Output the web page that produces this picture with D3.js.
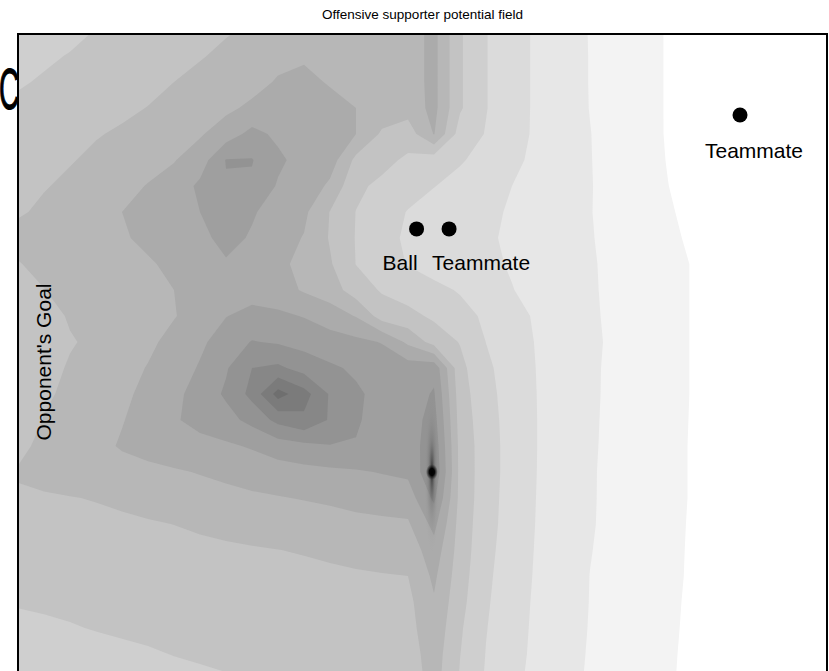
<!DOCTYPE html>
<html>
<head>
<meta charset="utf-8">
<script src="https://cdn.jsdelivr.net/npm/d3@7"></script>
<style>
  html, body { margin: 0; padding: 0; background: #fff; }
  svg { display: block; }
  text { font-family: "Liberation Sans", Arial, Helvetica, sans-serif; fill: #000; }
</style>
</head>
<body>
<svg id="chart" width="829" height="671"></svg>
<script>
// Sampled potential on a regular grid (row = top to bottom, column = left to right).
const gridCols = 33;
const gridRows = 26;
const potential = [
  [4.3,4.55,4.75,5.02,5.2,5.4,5.6,5.75,5.93,6.1,6.3,6.4,6.5,6.5,6.5,6.5,7.3,5.12,4.04,3.39,2.83,2.39,1.96,1.62,1.28,0.94,0.64,0.5,0.4,0.35,0.3,0.25,0.2],
  [4.65,4.85,5.05,5.2,5.35,5.5,5.7,5.95,6.15,6.3,6.7,6.85,6.6,6.5,6.5,6.5,7.3,5.12,4.04,3.39,2.83,2.39,1.97,1.62,1.28,0.94,0.64,0.5,0.4,0.35,0.3,0.25,0.2],
  [4.9,5.1,5.3,5.5,5.65,5.8,6.0,6.2,6.4,6.65,7.1,7.3,6.9,6.6,6.5,6.5,7.3,5.12,4.04,3.39,2.83,2.39,1.97,1.62,1.28,0.94,0.64,0.5,0.4,0.35,0.3,0.25,0.2],
  [5.2,5.4,5.55,5.7,5.85,6.02,6.2,6.4,6.8,7.2,7.5,7.6,7.4,7.0,6.6,6.4,7.3,5.12,4.04,3.39,2.83,2.39,1.98,1.63,1.28,0.94,0.64,0.5,0.4,0.35,0.3,0.25,0.2],
  [5.4,5.6,5.8,5.95,6.1,6.3,6.6,6.9,7.5,8.3,7.8,7.6,7.4,7.0,5.85,5.5,7.05,4.55,3.95,3.35,2.83,2.42,2.02,1.65,1.29,0.94,0.64,0.5,0.4,0.35,0.3,0.25,0.2],
  [5.6,5.8,5.95,6.15,6.4,6.65,6.95,7.5,9.05,9.05,8.2,7.6,7.5,5.75,5.3,4.82,4.46,4.1,3.66,3.2,2.78,2.41,2.03,1.67,1.32,0.965,0.66,0.5,0.4,0.35,0.3,0.25,0.2],
  [5.8,5.95,6.15,6.4,6.7,7.05,7.4,8.2,8.9,8.85,7.9,7.7,6.8,5.2,4.78,4.41,4.03,3.68,3.34,3.0,2.68,2.36,2.04,1.7,1.36,1.01,0.71,0.5,0.4,0.35,0.3,0.25,0.2],
  [5.9,6.15,6.45,6.7,7.0,7.35,7.6,8.0,8.6,8.1,7.6,7.2,5.97,4.98,4.5,3.95,3.6,3.45,3.2,2.9,2.61,2.32,2.03,1.72,1.4,1.085,0.78,0.5,0.4,0.35,0.3,0.25,0.2],
  [6.3,6.5,6.65,6.75,6.9,7.2,7.5,7.75,8.3,7.9,7.4,6.95,5.92,4.95,4.32,3.85,3.5,3.4,3.12,2.86,2.59,2.32,2.05,1.76,1.46,1.16,0.86,0.5,0.4,0.35,0.3,0.25,0.2],
  [5.95,6.25,6.5,6.65,6.75,6.9,7.2,7.5,7.9,7.7,7.25,6.7,6.1,4.98,4.46,3.95,3.6,3.45,3.19,2.92,2.64,2.36,2.08,1.8,1.52,1.23,0.95,0.5,0.4,0.35,0.3,0.25,0.2],
  [5.5,5.98,6.3,6.5,6.65,6.8,7.0,7.3,7.6,7.6,7.4,6.9,6.5,5.5,4.9,4.57,4.25,3.92,3.47,3.03,2.71,2.4,2.1,1.8,1.52,1.23,0.95,0.5,0.4,0.35,0.3,0.25,0.2],
  [5.3,5.6,6.1,6.45,6.6,6.75,6.95,7.4,7.97,8.3,8.2,7.95,7.5,6.95,5.55,5.28,4.83,4.34,3.84,3.32,2.86,2.49,2.13,1.81,1.53,1.23,0.95,0.5,0.4,0.35,0.3,0.25,0.2],
  [5.2,5.4,5.92,6.2,6.45,6.8,7.3,7.8,8.5,9.05,8.9,8.65,8.45,8.25,7.95,6.8,5.6,4.95,3.99,3.43,2.92,2.53,2.15,1.85,1.53,1.23,0.95,0.5,0.4,0.35,0.3,0.25,0.2],
  [5.35,5.65,6.1,6.4,6.65,7.05,7.45,8.1,8.9,10.0,10.2,9.6,9.15,8.85,8.6,8.5,8.7,5.29,4.2,3.52,2.95,2.55,2.14,1.81,1.52,1.23,0.95,0.5,0.4,0.35,0.3,0.25,0.2],
  [5.4,5.85,6.2,6.5,6.8,7.25,7.75,8.4,9.15,10.3,12.4,11.4,9.9,9.15,8.7,8.5,9.1,5.45,4.32,3.57,2.97,2.55,2.13,1.81,1.52,1.23,0.95,0.5,0.4,0.35,0.3,0.25,0.2],
  [5.25,6.05,6.3,6.6,6.95,7.4,7.9,8.3,8.65,9.3,10.3,10.8,9.9,9.1,8.65,8.5,9.4,5.58,4.4,3.61,2.98,2.55,2.12,1.79,1.51,1.22,0.94,0.5,0.4,0.35,0.3,0.25,0.2],
  [5.7,6.3,6.45,6.7,7.1,7.35,7.55,7.7,7.85,8.1,8.5,8.75,8.95,8.95,8.55,8.4,9.7,5.68,4.46,3.62,2.98,2.54,2.1,1.79,1.5,1.21,0.93,0.5,0.4,0.35,0.3,0.25,0.2],
  [6.1,6.3,6.4,6.5,6.6,6.75,6.9,7.05,7.2,7.4,7.55,7.7,7.8,7.9,8.05,8.2,9.9,5.7,4.46,3.62,2.97,2.53,2.08,1.78,1.49,1.21,0.93,0.5,0.4,0.35,0.3,0.25,0.2],
  [5.86,5.9,5.97,6.04,6.15,6.3,6.45,6.6,6.75,6.85,6.95,7.05,7.15,7.3,7.4,7.5,9.2,5.7,4.42,3.59,2.95,2.52,2.08,1.77,1.49,1.21,0.93,0.5,0.4,0.35,0.3,0.25,0.2],
  [5.66,5.71,5.76,5.81,5.86,5.93,6.01,6.13,6.25,6.35,6.45,6.55,6.65,6.75,6.82,6.88,8.3,5.6,4.38,3.56,2.93,2.5,2.07,1.76,1.48,1.2,0.91,0.5,0.4,0.35,0.3,0.25,0.2],
  [5.45,5.49,5.53,5.58,5.63,5.69,5.75,5.81,5.87,5.93,5.99,6.06,6.14,6.22,6.3,6.38,7.6,5.55,4.29,3.51,2.9,2.47,2.03,1.75,1.46,1.18,0.9,0.5,0.4,0.35,0.3,0.25,0.2],
  [5.25,5.28,5.31,5.35,5.39,5.43,5.48,5.53,5.59,5.65,5.72,5.79,5.86,5.92,5.96,6.0,7.2,5.44,4.2,3.46,2.87,2.43,1.99,1.73,1.45,1.17,0.89,0.5,0.4,0.35,0.3,0.25,0.2],
  [5.05,5.09,5.13,5.17,5.21,5.25,5.3,5.35,5.4,5.45,5.5,5.55,5.6,5.65,5.7,5.75,6.9,5.31,4.12,3.41,2.83,2.4,1.98,1.71,1.43,1.15,0.86,0.5,0.4,0.35,0.3,0.25,0.2],
  [4.84,4.9,4.96,5.03,5.1,5.16,5.22,5.28,5.33,5.38,5.43,5.48,5.53,5.57,5.61,5.65,6.7,5.13,4.04,3.36,2.8,2.37,1.96,1.69,1.4,1.13,0.84,0.5,0.4,0.35,0.3,0.25,0.2],
  [4.64,4.69,4.74,4.8,4.86,4.93,5.02,5.08,5.14,5.2,5.26,5.32,5.38,5.43,5.48,5.53,6.5,5.02,3.97,3.31,2.77,2.33,1.93,1.66,1.38,1.11,0.81,0.5,0.4,0.35,0.3,0.25,0.2],
  [4.44,4.5,4.56,4.62,4.68,4.74,4.8,4.87,4.94,5.01,5.08,5.15,5.22,5.29,5.35,5.42,6.4,4.92,3.9,3.23,2.72,2.28,1.9,1.63,1.34,1.09,0.79,0.5,0.4,0.35,0.3,0.25,0.2]
];

// Contour levels of the filled plot.
const levels = [1, 2, 3, 4, 5, 6, 7, 8, 9, 10, 11, 12];

// Field objects (grid units).
const objectNames = ["Ball", "Teammate", "Teammate"];
const objectX = [15.33, 16.58, 27.77];
const objectY = [7.65, 7.65, 3.27];

// Singular point of the potential on the vertical ridge (grid units).
const poleX = [15.92];
const poleY = [17.0];

const titleText = "Offensive supporter potential field";
const goalLabel = "Opponent's Goal";

// ---- layout ----
const W = 829, H = 671;
const frame = { left: 18, top: 34, right: 827, bottom: 700 };
const labelOffset = [[-34, 41], [-17, 41], [-35, 43]];

const x = d3.scaleLinear().domain([0, gridCols - 1]).range([18, 18 + 26 * (gridCols - 1)]);
const y = d3.scaleLinear().domain([0, gridRows - 1]).range([30, 30 + 26 * (gridRows - 1)]);
const shade = d3.scaleLinear().domain([0, 12]).range([255, 111]);

const svg = d3.select("#chart");
svg.append("rect").attr("width", W).attr("height", H).attr("fill", "#fff");

// Partly hidden glyph at the left margin
svg.append("text")
  .attr("transform", "translate(-1,109) scale(0.5,1.02)")
  .attr("font-size", 56)
  .attr("stroke", "#000").attr("stroke-width", 1.2)
  .text("C");

const defs = svg.append("defs");
defs.append("clipPath").attr("id", "plotClip")
  .append("rect")
  .attr("x", frame.left).attr("y", frame.top)
  .attr("width", frame.right - frame.left).attr("height", frame.bottom - frame.top);

function radial(id, stops) {
  const g = defs.append("radialGradient").attr("id", id);
  stops.forEach(([o, v, a]) => g.append("stop")
    .attr("offset", o).attr("stop-color", d3.rgb(v, v, v)).attr("stop-opacity", a));
}
radial("poleHalo", [[0, 20, 0.85], [0.15, 50, 0.6], [0.4, 95, 0.32], [0.75, 135, 0.1], [1, 150, 0]]);
radial("poleCore", [[0, 0, 1], [0.45, 0, 0.95], [0.75, 30, 0.5], [1, 60, 0]]);

const plot = svg.append("g").attr("clip-path", "url(#plotClip)");
plot.append("rect")
  .attr("x", frame.left).attr("y", frame.top)
  .attr("width", frame.right - frame.left).attr("height", frame.bottom - frame.top)
  .attr("fill", "#fff");

// filled contours of the potential
const values = potential.flat();
const bands = d3.contours().size([gridCols, gridRows]).thresholds(levels)(values);
const toScreen = d3.geoTransform({
  point(px, py) { this.stream.point(x(px - 0.5), y(py - 0.5)); }
});
const contourPath = d3.geoPath(toScreen);
plot.selectAll("path.band")
  .data(bands)
  .join("path")
  .attr("class", "band")
  .attr("d", contourPath)
  .attr("fill", d => { const g = Math.round(shade(d.value)); return d3.rgb(g, g, g); })
  .attr("stroke", "none");

// singular point on the ridge: elongated halo and dark core
const poles = poleX.map((px, i) => ({ px, py: poleY[i] }));
plot.selectAll("ellipse.halo")
  .data(poles)
  .join("ellipse")
  .attr("class", "halo")
  .attr("cx", d => x(d.px)).attr("cy", d => y(d.py))
  .attr("rx", 8).attr("ry", 80)
  .attr("fill", "url(#poleHalo)");
plot.selectAll("ellipse.core")
  .data(poles)
  .join("ellipse")
  .attr("class", "core")
  .attr("cx", d => x(d.px)).attr("cy", d => y(d.py))
  .attr("rx", 6).attr("ry", 8)
  .attr("fill", "url(#poleCore)");

// objects
const objects = objectNames.map((name, i) => ({ name, px: objectX[i], py: objectY[i], off: labelOffset[i] }));
plot.selectAll("circle.obj")
  .data(objects)
  .join("circle")
  .attr("class", "obj")
  .attr("cx", d => x(d.px)).attr("cy", d => y(d.py))
  .attr("r", 7.5)
  .attr("fill", "#000");

plot.selectAll("text.obj")
  .data(objects)
  .join("text")
  .attr("class", "obj")
  .attr("x", d => x(d.px) + d.off[0])
  .attr("y", d => y(d.py) + d.off[1])
  .attr("font-size", 21)
  .text(d => d.name);

plot.append("text")
  .attr("transform", "translate(51,362) rotate(-90)")
  .attr("text-anchor", "middle")
  .attr("font-size", 21)
  .text(goalLabel);

// frame
svg.append("rect")
  .attr("x", frame.left).attr("y", frame.top)
  .attr("width", frame.right - frame.left).attr("height", frame.bottom - frame.top)
  .attr("fill", "none").attr("stroke", "#000").attr("stroke-width", 2);

// title
svg.append("text")
  .attr("x", (frame.left + frame.right) / 2).attr("y", 19)
  .attr("text-anchor", "middle")
  .attr("font-size", 13.5)
  .text(titleText);
</script>
</body>
</html>
